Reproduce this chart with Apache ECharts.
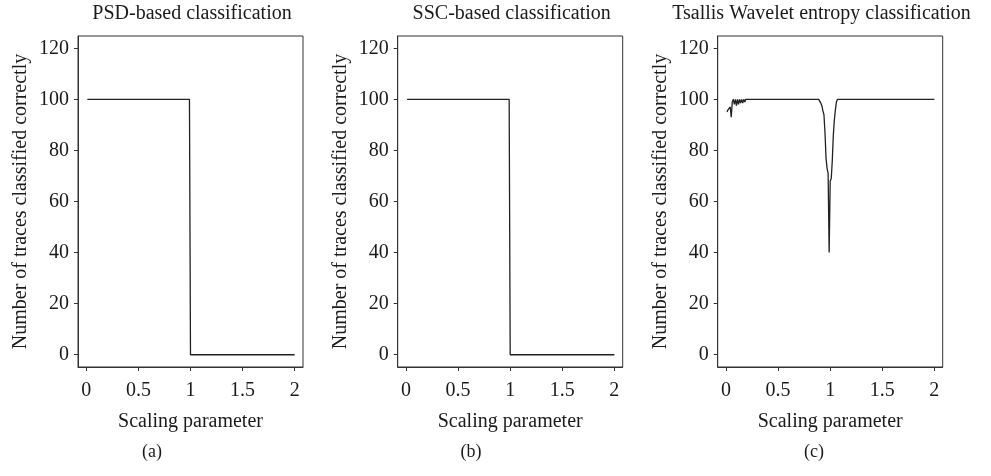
<!DOCTYPE html>
<html>
<head>
<meta charset="utf-8">
<script src="https://cdn.jsdelivr.net/npm/echarts@6/dist/echarts.min.js"></script>
<style>
html,body{margin:0;padding:0;background:#fff;}
#chart{width:991px;height:476px;}
</style>
</head>
<body>
<div id="chart"></div>
<script>
// ---- data ----
const panelTitles = ['PSD-based classification', 'SSC-based classification', 'Tsallis Wavelet entropy classification'];
const panelCaptions = ['(a)', '(b)', '(c)'];
const xAxisName = 'Scaling parameter';
const yAxisName = 'Number of traces classified correctly';
const xTicks = [0, 0.5, 1, 1.5, 2];
const xTickLabels = ['0', '0.5', '1', '1.5', '2'];
const yTicks = [0, 20, 40, 60, 80, 100, 120];
const yTickLabels = ['0', '20', '40', '60', '80', '100', '120'];

const psdX = [0.01, 0.99, 1.00, 2.00];
const psdY = [100, 100, 0, 0];

const sscX = [0.01, 0.99, 1.00, 2.00];
const sscY = [100, 100, 0, 0];

const tsallisX = [0.01, 0.02, 0.03, 0.04, 0.05, 0.06, 0.07, 0.08, 0.09, 0.10,
  0.11, 0.12, 0.13, 0.14, 0.15, 0.16, 0.17, 0.18, 0.19, 0.20,
  0.89, 0.90, 0.91, 0.92, 0.93, 0.94, 0.95, 0.96, 0.97, 0.98,
  0.99, 1.00, 1.01, 1.02, 1.03, 1.04, 1.05, 1.06, 1.07, 2.00];
const tsallisY = [95, 96, 96.5, 97, 93, 99, 100, 98, 100, 97.5,
  100, 98, 100, 98.5, 100, 98.5, 100, 99, 100, 100,
  100, 99.5, 98.5, 97.5, 95.5, 94, 87, 77, 73, 71,
  40, 68, 69, 76, 86, 92, 96, 99, 100, 100];

// ---- layout ----
const FONT = 'Liberation Serif';
const FS = 20;
const TXT = '#1a1a1a';
const gridLefts = [78, 397.7, 717.7];
const gridWidth = 225;
const gridTop = 36;
const gridHeight = 331;
const titleCenters = [192, 511.7, 821.5];
const captionCenters = [152, 471, 814];

const xs = [psdX, sscX, tsallisX];
const ys = [psdY, sscY, tsallisY];

const chart = echarts.init(document.getElementById('chart'), null, {renderer: 'canvas'});

const grids = [], xAxes = [], yAxes = [], series = [], graphics = [];
for (let i = 0; i < 3; i++) {
  grids.push({
    left: gridLefts[i], top: gridTop, width: gridWidth, height: gridHeight,
    show: true, borderColor: '#333', borderWidth: 1, backgroundColor: 'transparent',
    containLabel: false
  });
  xAxes.push({
    type: 'value', gridIndex: i, min: -0.08, max: 2.08,
    name: xAxisName, nameLocation: 'middle', nameGap: 45,
    nameTextStyle: {fontFamily: FONT, fontSize: FS, color: TXT},
    axisLine: {show: true, onZero: false, lineStyle: {color: '#333', width: 1}},
    axisTick: {show: true, inside: false, length: 4, customValues: xTicks, lineStyle: {color: '#333'}},
    axisLabel: {show: true, margin: 14, customValues: xTicks, fontFamily: FONT, fontSize: FS, color: TXT,
      formatter: v => xTickLabels[xTicks.indexOf(v)] ?? ''},
    splitLine: {show: false}
  });
  yAxes.push({
    type: 'value', gridIndex: i, min: -4.8, max: 124.8,
    name: yAxisName, nameLocation: 'middle', nameGap: 47, nameRotate: 90,
    nameTextStyle: {fontFamily: FONT, fontSize: FS, color: TXT},
    axisLine: {show: true, onZero: false, lineStyle: {color: '#333', width: 1}},
    axisTick: {show: true, inside: false, length: 4, customValues: yTicks, lineStyle: {color: '#333'}},
    axisLabel: {show: true, margin: 9, customValues: yTicks, fontFamily: FONT, fontSize: FS, color: TXT,
      formatter: v => yTickLabels[yTicks.indexOf(v)] ?? ''},
    splitLine: {show: false}
  });
  series.push({
    type: 'line', xAxisIndex: i, yAxisIndex: i,
    data: xs[i].map((x, k) => [x, ys[i][k]]),
    showSymbol: false, symbol: 'none', animation: false,
    lineStyle: {color: '#222', width: 1.3}
  });
  graphics.push({
    type: 'text', x: titleCenters[i], y: 14,
    style: {text: panelTitles[i], fontFamily: FONT, fontSize: FS, fill: TXT, align: 'center', verticalAlign: 'middle'}
  });
  graphics.push({
    type: 'text', x: captionCenters[i], y: 452,
    style: {text: panelCaptions[i], fontFamily: FONT, fontSize: 18, fill: TXT, align: 'center', verticalAlign: 'middle'}
  });
}

chart.setOption({
  animation: false,
  backgroundColor: '#fff',
  grid: grids,
  xAxis: xAxes,
  yAxis: yAxes,
  series: series,
  graphic: graphics
});
</script>
</body>
</html>
